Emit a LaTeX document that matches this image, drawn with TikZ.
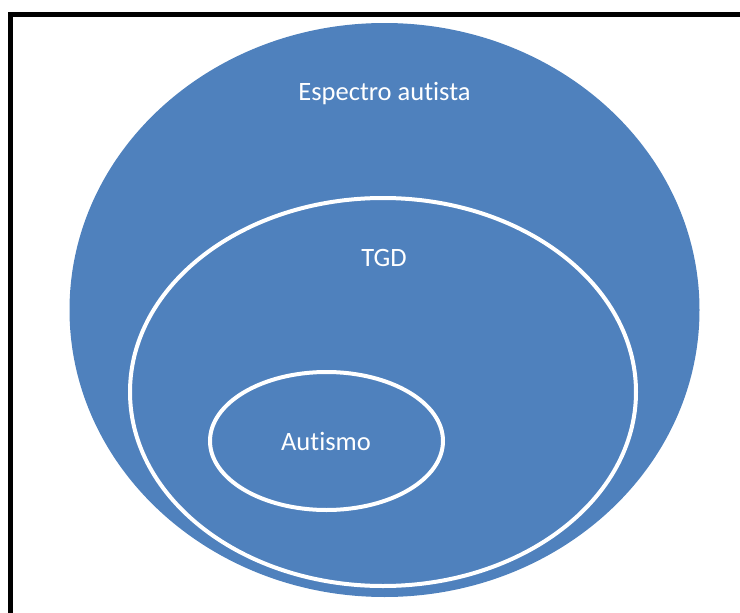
\documentclass[tikz,border=0pt]{standalone}
\usepackage{fontspec}
\setmainfont{Carlito}[Ligatures={NoCommon,NoRare,NoContextual}]
\colorlet{set area}{rgb,255:red,79;green,129;blue,189}
\colorlet{set edge}{white}
\tikzset{
  filled/.style={fill=set area},
  outline/.style={draw=set edge, line width=4pt}
  }
\tikzstyle{frame} = [draw, line width=5pt, black, line join=miter]
\tikzstyle{label}=[text=white, inner sep=0pt, font=\fontsize{26.5}{32}\selectfont]
\def\sets{{(383,392)/253/194/tgd}, {(326.5,441)/116.5/69/aut}}
\def\labels{{(384.5,94)/esp/Espectro autista}, {(384,258)/tgdl/TGD}, {(326,441)/autl/Autismo}}

\begin{document}
\begin{tikzpicture}[x=1pt, y=-1pt]

  % Page size
  \useasboundingbox (0,0) rectangle (740,613);
  \path[frame] (10,613) -- (10,14) -- (740,14);

  % The outer set
  \fill[filled] (384.5,310) ellipse [x radius=315, y radius=287];

  % the sets inside it
  \foreach \pos/\rx/\ry/\name in \sets {
    \path[filled, outline] \pos ellipse [x radius=\rx, y radius=\ry];
  }

  % The names of the sets
  \foreach \pos/\name/\text in \labels
    \node[label] (\name) at \pos {\text};
\end{tikzpicture}
\end{document}
